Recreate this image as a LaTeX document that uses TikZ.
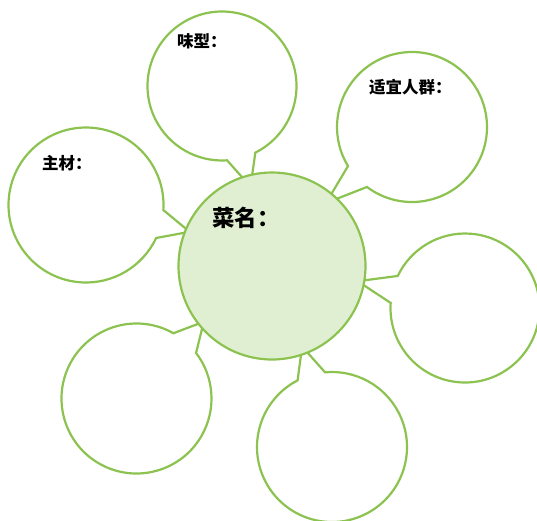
\documentclass[tikz,border=0pt]{standalone}
\usepackage{fontspec}
\newfontfamily\cjk{Noto Sans CJK SC}
\definecolor{leaf}{RGB}{140,195,80}
\definecolor{leaffill}{RGB}{224,238,210}
\begin{document}
\begin{tikzpicture}[x=1pt,y=1pt,
  bubble/.style={draw=leaf,line width=2.2pt,fill=white,line join=miter},
  hub/.style={circle,draw=leaf,line width=2.2pt,fill=leaffill,minimum size=187pt,inner sep=0pt},
  lbl/.style={anchor=west,inner sep=0pt,font=\cjk\bfseries\fontsize{16.5}{17}\selectfont},
  biglbl/.style={anchor=west,inner sep=0pt,font=\cjk\bfseries\fontsize{22.5}{23}\selectfont}]
\useasboundingbox (0,0) rectangle (537,-520);
% bubble centres and tail tips
\coordinate (c1) at (222,-86);   \coordinate (t1) at (250.5,-186.6);
\coordinate (c2) at (412,-127);  \coordinate (t2) at (326,-203);
\coordinate (c3) at (86,-205);   \coordinate (t3) at (189.6,-231.8);
\coordinate (c4) at (465,-308);  \coordinate (t4) at (357.7,-281.2);
\coordinate (c5) at (332,-447);  \coordinate (t5) at (302.1,-346.5);
\coordinate (c6) at (136.5,-398.5); \coordinate (t6) at (203.8,-321.7);
% bubbles
\draw[bubble] (c1) ++(-63.4:74.5pt) arc[start angle=-63.4,end angle=273.9,radius=74.5pt] -- (t1) -- cycle;
\draw[bubble] (c2) ++(233.1:75pt) arc[start angle=233.1,end angle=571.4,radius=75pt] -- (t2) -- cycle;
\draw[bubble] (c3) ++(-3.7:77.5pt) arc[start angle=-3.7,end angle=334.8,radius=77.5pt] -- (t3) -- cycle;
\draw[bubble] (c4) ++(176.1:74.5pt) arc[start angle=176.1,end angle=514.5,radius=74.5pt] -- (t4) -- cycle;
\draw[bubble] (c5) ++(117.3:75pt) arc[start angle=117.3,end angle=455.3,radius=75pt] -- (t5) -- cycle;
\draw[bubble] (c6) ++(60.5:75pt) arc[start angle=60.5,end angle=397.4,radius=75pt] -- (t6) -- cycle;
% central circle
\node[hub] (main) at (272,-266) {};
% labels
\node[biglbl] (l0) at (212,-218) {菜名：};
\node[lbl] (l1) at (177,-41) {味型：};
\node[lbl] (l2) at (369,-87) {适宜人群：};
\node[lbl] (l3) at (42,-163) {主材：};
\end{tikzpicture}
\end{document}
